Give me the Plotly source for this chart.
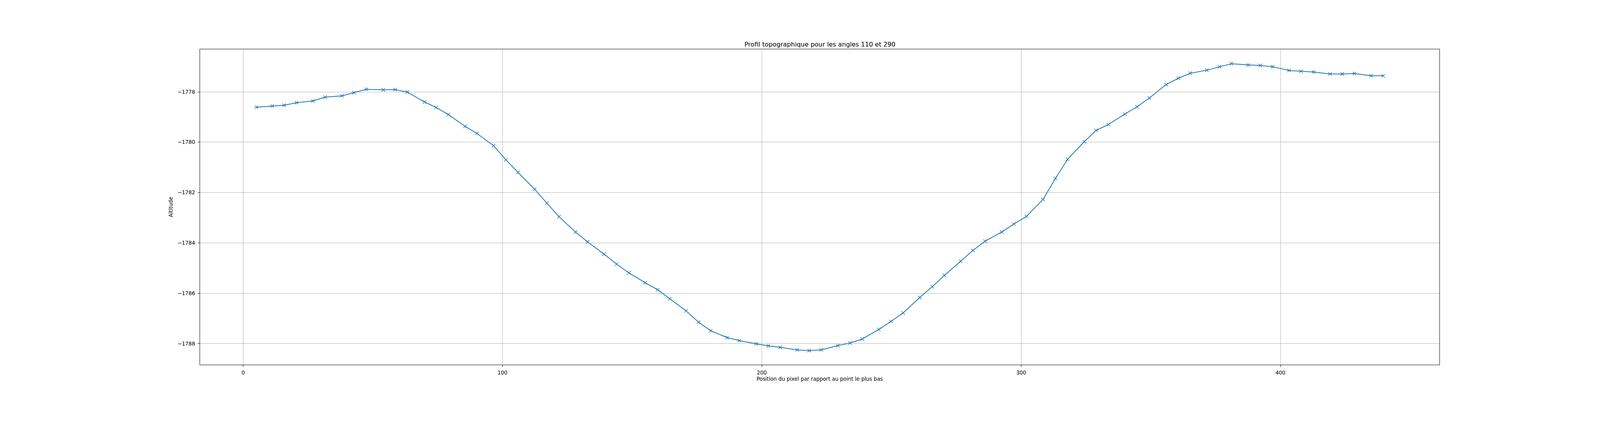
# -*- coding: utf-8 -*-
"""
profil topographique (angles 110 / 290), version plotly
"""
import plotly.graph_objects as go

# positions le long du profil (pixels) et altitudes lues
x_pos = [5.1, 11.2, 15.8, 20.6, 26.9, 31.6, 38.1, 42.7, 47.5, 54.0, 58.6, 63.3,
         69.9, 74.4, 79.1, 85.6, 90.1, 96.6, 101.3, 106.0, 112.4, 117.1,
         121.8, 128.2, 132.8, 139.2, 144.0, 148.7, 155.0, 159.8, 164.5, 170.8,
         175.6, 180.3, 186.6, 191.3, 197.8, 202.5, 207.1, 213.6, 218.3, 222.9,
         229.3, 234.0, 238.7, 245.1, 249.8,
         254.5, 260.9, 265.7, 270.4, 276.7, 281.4, 286.1, 292.5, 297.2, 302.0,
         308.4, 313.2, 317.9, 324.3, 328.9, 333.6, 340.0, 344.7, 349.5, 355.9,
         360.6, 365.2, 371.6, 376.5, 381.1, 387.5, 392.2, 396.9, 403.3, 407.9,
         412.8, 419.1, 423.8, 428.5, 434.9, 439.6]

altitude = [-1778.61, -1778.56, -1778.53, -1778.43, -1778.36, -1778.21, -1778.16,
            -1778.03, -1777.90, -1777.92, -1777.91, -1778.01, -1778.40, -1778.62,
            -1778.90, -1779.37, -1779.65, -1780.14, -1780.70, -1781.20, -1781.87,
            -1782.42,
            -1782.96, -1783.57, -1783.96, -1784.45, -1784.84, -1785.19, -1785.58,
            -1785.86, -1786.22, -1786.70, -1787.15, -1787.49, -1787.76, -1787.88,
            -1788.01, -1788.09, -1788.15, -1788.25, -1788.28, -1788.25, -1788.08,
            -1787.98, -1787.82, -1787.44, -1787.12,
            -1786.78, -1786.17, -1785.74, -1785.29, -1784.73, -1784.30, -1783.93,
            -1783.57, -1783.25, -1782.95, -1782.28, -1781.44, -1780.68, -1779.98,
            -1779.53, -1779.30, -1778.88, -1778.59, -1778.24, -1777.71, -1777.46,
            -1777.26, -1777.14, -1777.00, -1776.88, -1776.93, -1776.95, -1777.00,
            -1777.15, -1777.18, -1777.21, -1777.29, -1777.29, -1777.27, -1777.36,
            -1777.36]

x_ticks = [0, 100, 200, 300, 400]
x_ticklabels = ['0', '100', '200', '300', '400']
y_ticks = [-1788, -1786, -1784, -1782, -1780, -1778]
y_ticklabels = ['\u22121788', '\u22121786', '\u22121784', '\u22121782', '\u22121780', '\u22121778']

font = 'DejaVu Sans'
blue = '#1f77b4'

# la capture agrandit la page d'environ 5 % : tout est donne en pixels image puis ramene
k = 1 / 1.05
def px(v):
    return v * k

W, H = 4300, 1100
L, R, T, B = 538, 430, 132, 121

fig = go.Figure()
fig.add_trace(go.Scatter(x=x_pos, y=altitude, mode='lines+markers',
                         line=dict(color=blue, width=px(2.1)),
                         marker=dict(symbol='x-thin', size=px(9),
                                     line=dict(color=blue, width=px(1.5))),
                         showlegend=False))

#%% axes facon matplotlib
axis_common = dict(showline=True, linecolor='black', linewidth=px(1.2), mirror=True,
                   ticks='outside', ticklen=px(5), tickwidth=px(1.1), tickcolor='black',
                   showgrid=True, gridcolor='#b0b0b0', gridwidth=px(1.1),
                   zeroline=False, tickfont=dict(family=font, size=px(14), color='black'))

fig.update_xaxes(range=[-16.64, 461.3], tickmode='array', tickvals=x_ticks,
                 ticktext=x_ticklabels, ticklabelstandoff=3,
                 title=dict(text='Position du pixel par rapport au point le plus bas',
                            font=dict(family=font, size=px(14), color='black'),
                            standoff=4),
                 **axis_common)
fig.update_yaxes(range=[-1788.84, -1776.307], tickmode='array', tickvals=y_ticks,
                 ticktext=y_ticklabels, ticklabelstandoff=4,
                 title=dict(text='Altitude',
                            font=dict(family=font, size=px(14), color='black'),
                            standoff=8),
                 **axis_common)

fig.update_layout(width=px(W), height=px(H),
                  margin=dict(l=px(L), r=px(R), t=px(T), b=px(B), pad=0),
                  paper_bgcolor='white', plot_bgcolor='white',
                  title=dict(text='Profil topographique pour les angles 110 et 290',
                             font=dict(family=font, size=px(17), color='black'),
                             x=(L + W - R) / 2 / W, xanchor='center',
                             y=1 - 119 / H, yanchor='middle', yref='container'))

# pas de marge autour du graphe dans la page, pas de barre d'outils
fig.write_html("out.html", config={'displayModeBar': False},
               post_script="document.body.style.margin='0';"
                           "document.body.style.overflow='hidden';")
